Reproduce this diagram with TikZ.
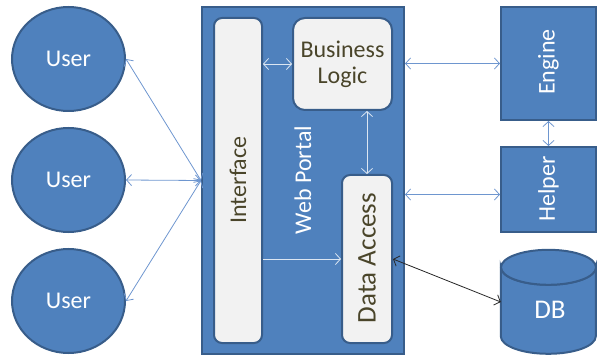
\documentclass[tikz,border=0pt]{standalone}
\usepackage{fontspec}
\setmainfont{Carlito}
\usetikzlibrary{shapes.geometric,arrows.meta}
\definecolor{bfill}{HTML}{4F81BD}
\definecolor{bline}{HTML}{385D8A}
\definecolor{lfill}{HTML}{F2F2F2}
\definecolor{ltext}{HTML}{4A452A}
\definecolor{arr}{HTML}{6E96CF}
\definecolor{warr}{HTML}{DCE6F2}
\tikzset{
  bigtext/.style={font=\fontsize{24}{26}\selectfont},
  hugetext/.style={font=\fontsize{27}{29}\selectfont},
  bluebox/.style={draw=bline, line width=2pt, fill=bfill, text=white, bigtext, inner sep=0pt},
  lightbox/.style={draw=bline, line width=2pt, fill=lfill, text=ltext, bigtext, inner sep=0pt, rounded corners=8pt},
  userc/.style={ellipse, bluebox, minimum width=113pt, minimum height=104pt},
  conn/.style={arr, line width=0.8pt, {Straight Barb[length=5pt,width=11pt]}-{Straight Barb[length=5pt,width=11pt]}},
  wconn/.style={warr, line width=0.8pt, {Straight Barb[length=5pt,width=11pt]}-{Straight Barb[length=5pt,width=11pt]}},
  wone/.style={warr, line width=0.8pt, -{Straight Barb[length=5pt,width=11pt]}},
  bconn/.style={black!85, line width=0.8pt, {Straight Barb[length=5pt,width=11pt]}-{Straight Barb[length=5pt,width=11pt]}},
}
\begin{document}
\begin{tikzpicture}[x=1pt,y=-1pt]
\useasboundingbox (0,0) rectangle (597,358);
% users
\node[userc] (u1) at (68.5,59) {User};
\node[userc] (u2) at (68.5,180) {User};
\node[userc] (u3) at (68.5,301) {User};
% portal
\node[bluebox, minimum width=202pt, minimum height=347pt] (portal) at (303,180.5) {};
\node[text=white, bigtext, rotate=90] (plabel) at (303,180) {Web Portal};
\node[lightbox, minimum width=48pt, minimum height=325pt] (iface) at (238,180.5) {};
\node[text=ltext, bigtext, rotate=90] (ilabel) at (238,180) {Interface};
\node[lightbox, rounded corners=12pt, minimum width=99pt, minimum height=92pt, align=center] (bl) at (342.5,64) {Business\\Logic};
\node[lightbox, minimum width=50pt, minimum height=168pt] (da) at (367,259) {};
\node[text=ltext, hugetext, rotate=90] (dlabel) at (367,258) {Data Access};
% right side
\node[bluebox, minimum width=95pt, minimum height=113pt] (engine) at (548.5,63.5) {};
\node[text=white, bigtext, rotate=90] (elabel) at (548.5,62) {Engine};
\node[bluebox, minimum width=95pt, minimum height=85pt] (helper) at (548.5,189.5) {};
\node[text=white, bigtext, rotate=90] (hlabel) at (548.5,189) {Helper};
% DB cylinder
\node[minimum width=95pt, minimum height=104pt, inner sep=0pt] (db) at (548.5,302) {};
\draw[bline, line width=2pt, fill=bfill]
  (db.north west) ++(0,17.5) -- ++(0,69) arc[start angle=180, end angle=360, x radius=47.5, y radius=-17.5]
  -- ++(0,-69) arc[start angle=0, end angle=-180, x radius=47.5, y radius=-17.5] -- cycle;
\draw[bline, line width=2pt, fill=bfill]
  ([yshift=-17.5pt]db.north) ellipse[x radius=47.5, y radius=17.5];
\node[text=white, hugetext] (dbl) at (550,310) {DB};
% connectors
\draw[conn] (u1.east) -- (portal.west);
\draw[conn] (u2.east) -- (portal.west);
\draw[conn] (u3.east) -- (portal.west);
\draw[wconn] (iface.east |- bl.west) -- (bl.west);
\draw[wconn] (da.north |- bl.south) -- (da.north);
\draw[wone] (iface.east |- da.west) -- (da.west);
\draw[conn] (portal.east |- engine.west) -- (engine.west);
\coordinate (hw) at ([yshift=-5pt]helper.west);
\draw[conn] (portal.east |- hw) -- (hw);
\draw[conn] (engine.south) -- (helper.north);
\draw[bconn] (da.east) -- (db.west);
\end{tikzpicture}
\end{document}
